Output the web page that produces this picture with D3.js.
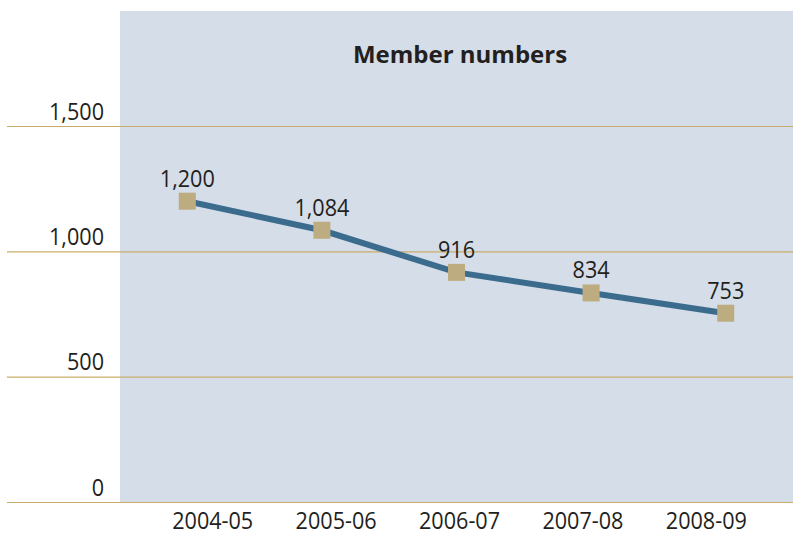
<!DOCTYPE html>
<html>
<head>
<meta charset="utf-8">
<script src="https://cdn.jsdelivr.net/npm/d3@7"></script>
<style>
  body { margin: 0; background: #fff; }
  svg text { font-family: 'Open Sans', 'Noto Sans', sans-serif; fill: #231f20; }
</style>
</head>
<body>
<svg id="chart"></svg>
<script>
// chart data
let years = ['2004-05', '2005-06', '2006-07', '2007-08', '2008-09']
let members = [1200, 1084, 916, 834, 753]
let yTicks = [0, 500, 1000, 1500]

let width = 793
let height = 535

// the original type is a narrow face, so squeeze the numbers a little
let fontSize = 24
let squeeze = 0.9

let svg = d3.select('#chart')
    .attr('width', width)
    .attr('height', height)

// points sit in the middle of equal bands across the shaded panel
let xScale = d3.scaleBand()
    .domain(years)
    .range([120, 793])

// year labels are spread a bit tighter than the points
let labelScale = d3.scaleBand()
    .domain(years)
    .range([151, 768])

let yScale = d3.scaleLinear()
    .domain([0, 1500])
    .range([502, 126])

// shaded panel behind the plot
svg.append('rect')
    .attr('x', 120)
    .attr('y', 11)
    .attr('width', 673)
    .attr('height', yScale(0) - 11)
    .attr('fill', '#d5dde8')

// gridlines + y labels
let yAxis = d3.axisLeft(yScale)
    .tickValues(yTicks)
    .tickSize(-786)
    .tickFormat(d3.format(','))

svg.append('g')
    .attr('id', 'y-axis')
    .attr('transform', 'translate(793, 0)')
    .call(yAxis)
    .call(g => g.select('.domain').remove())
    .call(g => g.selectAll('.tick line')
        .attr('stroke', '#c9ac6c')
        .attr('stroke-width', 1.2)
        .attr('transform', 'scale(-1,1)'))
    .call(g => g.selectAll('.tick text')
        .attr('x', -689 / squeeze)
        .attr('dy', -7)
        .attr('font-size', fontSize)
        .attr('text-anchor', 'end')
        .attr('transform', 'scale(' + squeeze + ',1)'))

// x labels, no axis line
let xAxis = d3.axisBottom(labelScale).tickSize(0)
svg.append('g')
    .attr('id', 'x-axis')
    .attr('transform', 'translate(0, 502)')
    .call(xAxis)
    .call(g => g.select('.domain').remove())
    .call(g => g.selectAll('.tick text')
        .attr('y', 27)
        .attr('dy', 0)
        .attr('font-size', fontSize)
        .attr('transform', 'scale(' + squeeze + ',1)'))

let cx = (d, i) => xScale(years[i]) + xScale.bandwidth() / 2

// the line
let line = d3.line()
    .x(cx)
    .y(d => yScale(d))

svg.append('path')
    .datum(members)
    .attr('d', line)
    .attr('fill', 'none')
    .attr('stroke', '#3b6c8e')
    .attr('stroke-width', 6)

// square markers
let size = 17
svg.selectAll('rect.marker')
    .data(members)
    .enter()
    .append('rect')
    .attr('class', 'marker')
    .attr('x', (d, i) => cx(d, i) - size / 2)
    .attr('y', d => yScale(d) - size / 2)
    .attr('width', size)
    .attr('height', size)
    .attr('fill', '#bdac7f')

// value labels above the markers
svg.selectAll('text.value')
    .data(members)
    .enter()
    .append('text')
    .attr('class', 'value')
    .attr('transform', (d, i) => 'translate(' + cx(d, i) + ',' + (yScale(d) - size / 2 - 6) + ') scale(' + squeeze + ',1)')
    .attr('text-anchor', 'middle')
    .attr('font-size', fontSize)
    .text(d => d3.format(',')(d))

// title
svg.append('text')
    .attr('x', 460)
    .attr('y', 63)
    .attr('text-anchor', 'middle')
    .attr('font-size', 24)
    .attr('font-weight', 'bold')
    .text('Member numbers')
</script>
</body>
</html>
